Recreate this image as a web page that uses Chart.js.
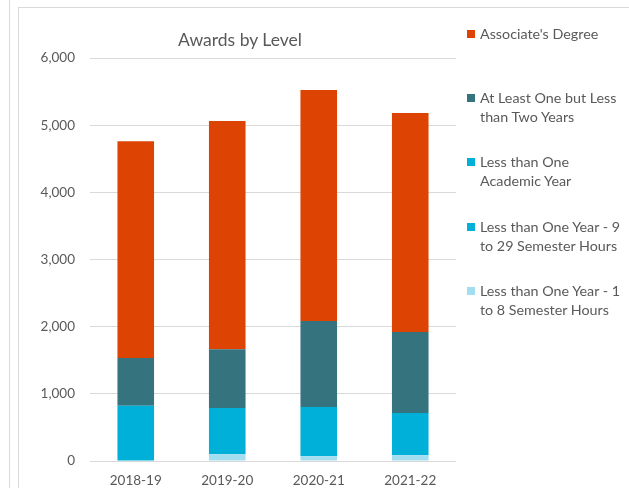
<!DOCTYPE html>
<html>
<head>
<meta charset="utf-8">
<script src="https://cdn.jsdelivr.net/npm/chart.js@4.4.1/dist/chart.umd.min.js"></script>
<style>
  html, body { margin: 0; padding: 0; background: #fff; }
  #wrap { position: relative; width: 629px; height: 488px; overflow: hidden; font-family: Lato, "Open Sans", sans-serif; color: #595959; }
  #c { position: absolute; left: 0; top: 0; }
  .vline { position: absolute; left: 9px; top: 0; width: 1px; height: 488px; background: #d9d9d9; }
  .frame { position: absolute; left: 18px; top: 7px; width: 640px; height: 500px; border-left: 1px solid #d9d9d9; border-top: 1px solid #d9d9d9; }
  #title { position: absolute; left: 140px; width: 200px; top: 29px; text-align: center; font-size: 17.5px; line-height: 22px; }
  #legend { position: absolute; left: 467px; top: 0; width: 160px; }
  .item { position: absolute; left: 0; font-size: 14.3px; line-height: 19px; }
  .item .sw { position: absolute; left: 0; top: 6px; width: 8px; height: 8px; }
  .item .tx { position: absolute; left: 13px; top: 0; white-space: nowrap; }
</style>
</head>
<body>
<div id="wrap">
  <div class="vline"></div>
  <div class="frame"></div>
  <canvas id="c" width="629" height="488"></canvas>
  <div id="title">Awards by Level</div>
  <div id="legend"></div>
</div>
<script>
const categories = ["2018-19", "2019-20", "2020-21", "2021-22"];
const seriesNames = [
  "Associate's Degree",
  "At Least One but Less than Two Years",
  "Less than One Academic Year",
  "Less than One Year - 9 to 29 Semester Hours",
  "Less than One Year - 1 to 8 Semester Hours"
];
const legendLines = [
  ["Associate's Degree"],
  ["At Least One but Less", "than Two Years"],
  ["Less than One", "Academic Year"],
  ["Less than One Year - 9", "to 29 Semester Hours"],
  ["Less than One Year - 1", "to 8 Semester Hours"]
];
const associates = [3227, 3399, 3439, 3261];
const atLeastOne = [710, 874, 1280, 1205];
const lessThanOneAcademic = [823, 0, 0, 0];
const lessThanOne9to29 = [0, 689, 732, 630];
const lessThanOne1to8 = [0, 100, 72, 85];
const seriesValues = [associates, atLeastOne, lessThanOneAcademic, lessThanOne9to29, lessThanOne1to8];
const seriesColors = ["#DD4404", "#35737F", "#00B0D8", "#00B0D8", "#A3DDF0"];
const yTicks = [0, 1000, 2000, 3000, 4000, 5000, 6000];

// Legend (HTML)
const legendEl = document.getElementById('legend');
const legendTops = [24, 88, 152, 217, 281];
seriesNames.forEach((n, i) => {
  const it = document.createElement('div');
  it.className = 'item';
  it.style.top = legendTops[i] + 'px';
  const sw = document.createElement('span');
  sw.className = 'sw';
  sw.style.background = seriesColors[i];
  const tx = document.createElement('span');
  tx.className = 'tx';
  tx.innerHTML = legendLines[i].join('<br>');
  it.appendChild(sw); it.appendChild(tx);
  legendEl.appendChild(it);
});

// Datasets: bottom of stack first
const order = [4, 3, 2, 1, 0];
const datasets = order.map(i => ({
  label: seriesNames[i],
  data: seriesValues[i],
  backgroundColor: seriesColors[i],
  borderWidth: 0,
  barPercentage: 0.4,
  categoryPercentage: 1.0
}));

new Chart(document.getElementById('c'), {
  type: 'bar',
  data: { labels: categories, datasets: datasets },
  options: {
    responsive: false,
    animation: false,
    events: [],
    layout: { padding: { top: 58, right: 173, bottom: 0, left: 0 } },
    plugins: { legend: { display: false }, title: { display: false }, tooltip: { enabled: false } },
    scales: {
      x: {
        stacked: true,
        grid: { display: false },
        border: { display: false },
        ticks: { color: '#595959', font: { family: 'Lato', size: 13.5 }, padding: 4 },
        afterFit: s => { s.height = 27; }
      },
      y: {
        stacked: true,
        min: 0, max: 6000,
        afterBuildTicks: s => { s.ticks = yTicks.map(v => ({ value: v })); },
        grid: { color: '#D9D9D9', lineWidth: 1, drawTicks: false },
        border: { display: false },
        ticks: {
          color: '#595959', font: { family: 'Lato', size: 13.5 }, padding: 15,
          callback: v => v.toLocaleString('en-US')
        },
        afterFit: s => { s.width = 90; }
      }
    }
  }
});
</script>
</body>
</html>
